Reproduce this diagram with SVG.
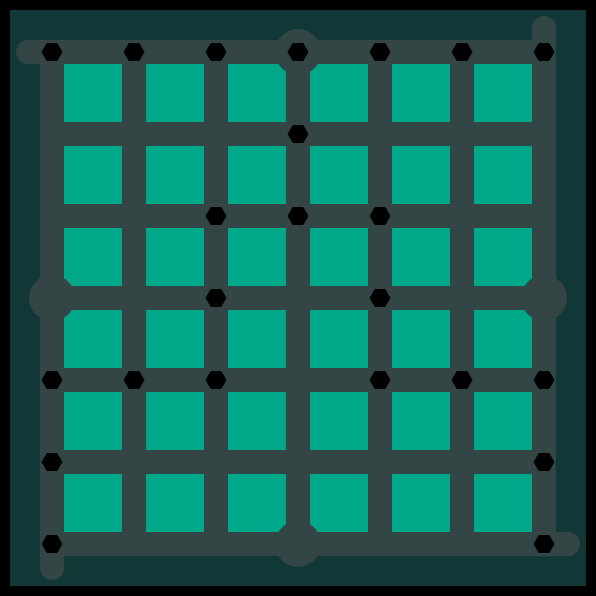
<svg xmlns="http://www.w3.org/2000/svg" width="596" height="596" viewBox="0 0 596 596">
<defs>
<style>
.rd{stroke:#334545;stroke-width:24;fill:none}
.rc{stroke-linecap:round}
.hub{fill:#334545}
.hx{fill:#000}
</style>
<pattern id="blocks" x="64" y="64" width="82" height="82" patternUnits="userSpaceOnUse">
<rect width="58" height="58" fill="#00a88a"/>
</pattern>
<polygon id="hex" points="10.5,0 5.25,9.1 -5.25,9.1 -10.5,0 -5.25,-9.1 5.25,-9.1"/>
</defs>
<rect width="596" height="596" fill="#000"/>
<rect x="10" y="10" width="576" height="576" fill="#113836"/>
<g id="blocks-group">
<rect x="64" y="64" width="476" height="476" fill="url(#blocks)"/>
</g>
<g id="connectors">
<path class="rd" d="M134 52V544M216 52V544M298 52V544M380 52V544M462 52V544M52 134H544M52 216H544M52 298H544M52 380H544M52 462H544"/>
<line class="rd rc" x1="28" y1="52" x2="544" y2="52"/>
<line class="rd rc" x1="544" y1="28" x2="544" y2="544"/>
<line class="rd rc" x1="52" y1="544" x2="568" y2="544"/>
<line class="rd rc" x1="52" y1="52" x2="52" y2="568"/>
</g>
<g id="hub-n"><circle class="hub" cx="298" cy="52" r="23"/></g>
<g id="hub-w"><circle class="hub" cx="52" cy="298" r="23"/></g>
<g id="hub-e"><circle class="hub" cx="544" cy="298" r="23"/></g>
<g id="hub-s"><circle class="hub" cx="298" cy="544" r="23"/></g>
<g id="n-0-0" class="hx"><use href="#hex" x="52" y="52"/></g>
<g id="n-1-0" class="hx"><use href="#hex" x="134" y="52"/></g>
<g id="n-2-0" class="hx"><use href="#hex" x="216" y="52"/></g>
<g id="n-3-0" class="hx"><use href="#hex" x="298" y="52"/></g>
<g id="n-4-0" class="hx"><use href="#hex" x="380" y="52"/></g>
<g id="n-5-0" class="hx"><use href="#hex" x="462" y="52"/></g>
<g id="n-6-0" class="hx"><use href="#hex" x="544" y="52"/></g>
<g id="n-3-1" class="hx"><use href="#hex" x="298" y="134"/></g>
<g id="n-2-2" class="hx"><use href="#hex" x="216" y="216"/></g>
<g id="n-3-2" class="hx"><use href="#hex" x="298" y="216"/></g>
<g id="n-4-2" class="hx"><use href="#hex" x="380" y="216"/></g>
<g id="n-2-3" class="hx"><use href="#hex" x="216" y="298"/></g>
<g id="n-4-3" class="hx"><use href="#hex" x="380" y="298"/></g>
<g id="n-0-4" class="hx"><use href="#hex" x="52" y="380"/></g>
<g id="n-1-4" class="hx"><use href="#hex" x="134" y="380"/></g>
<g id="n-2-4" class="hx"><use href="#hex" x="216" y="380"/></g>
<g id="n-4-4" class="hx"><use href="#hex" x="380" y="380"/></g>
<g id="n-5-4" class="hx"><use href="#hex" x="462" y="380"/></g>
<g id="n-6-4" class="hx"><use href="#hex" x="544" y="380"/></g>
<g id="n-0-5" class="hx"><use href="#hex" x="52" y="462"/></g>
<g id="n-6-5" class="hx"><use href="#hex" x="544" y="462"/></g>
<g id="n-0-6" class="hx"><use href="#hex" x="52" y="544"/></g>
<g id="n-6-6" class="hx"><use href="#hex" x="544" y="544"/></g>
</svg>
